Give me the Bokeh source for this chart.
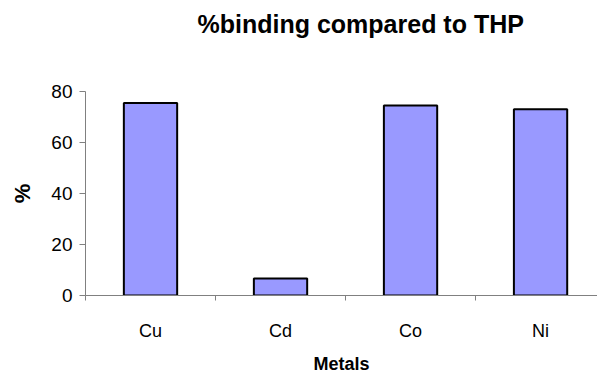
from bokeh.plotting import figure
from bokeh.models import Range1d, FixedTicker, Title
from bokeh.embed import file_html
from bokeh.resources import INLINE

# Data
metals = ["Cu", "Cd", "Co", "Ni"]
binding = [75.5, 6.7, 74.5, 73.0]
y_ticks = [0, 20, 40, 60, 80]

FONT = "Liberation Sans"

centers = [i + 0.5 for i in range(len(metals))]
bounds = list(range(len(metals)))

p = figure(width=597, height=376, output_backend="svg", toolbar_location=None,
           x_range=Range1d(0, 3.938), y_range=Range1d(0, 80),
           min_border_left=85, min_border_right=0, min_border_top=91, min_border_bottom=81,
           title=None)
p.outline_line_color = None
p.background_fill_color = "white"
p.border_fill_color = "white"

p.vbar(x=centers, top=binding, width=0.41, bottom=0,
       fill_color="#9999FF", line_color="black", line_width=2)

# spacer between frame and title (closest to frame)
spacer = Title(text=" ", text_font=FONT, text_font_size="10px", standoff=41)
p.add_layout(spacer, "above")
t = Title(text="%binding compared to THP", text_font=FONT, text_font_size="25px",
          text_font_style="bold", text_color="black", align="left", offset=112, standoff=0)
p.add_layout(t, "above")

p.xgrid.visible = False
p.ygrid.visible = False

xa = p.xaxis[0]
xa.ticker = FixedTicker(ticks=centers, minor_ticks=bounds)
xa.major_label_overrides = {c: m for c, m in zip(centers, metals)}
xa.major_tick_out = 0
xa.major_tick_in = 0
xa.minor_tick_out = 5
xa.minor_tick_in = 0
xa.axis_line_color = "#808080"
xa.minor_tick_line_color = "#808080"
xa.major_label_text_font = FONT
xa.major_label_text_font_size = "18px"
xa.major_label_text_color = "black"
xa.major_label_standoff = 20
xa.axis_label = "Metals"
xa.axis_label_text_font = FONT
xa.axis_label_text_font_size = "18px"
xa.axis_label_text_font_style = "bold"
xa.axis_label_text_color = "black"
xa.axis_label_standoff = 10

ya = p.yaxis[0]
ya.ticker = FixedTicker(ticks=y_ticks)
ya.major_tick_out = 6
ya.major_tick_in = 0
ya.minor_tick_out = 0
ya.minor_tick_in = 0
ya.axis_line_color = "#808080"
ya.major_tick_line_color = "#808080"
ya.major_label_text_font = FONT
ya.major_label_text_font_size = "19px"
ya.major_label_text_color = "black"
ya.major_label_standoff = 7
ya.axis_label = "%"
ya.axis_label_text_font = FONT
ya.axis_label_text_font_size = "22px"
ya.axis_label_text_font_style = "bold"
ya.axis_label_text_color = "black"
ya.axis_label_standoff = 13

open("out.html", "w").write(file_html(p, INLINE))
